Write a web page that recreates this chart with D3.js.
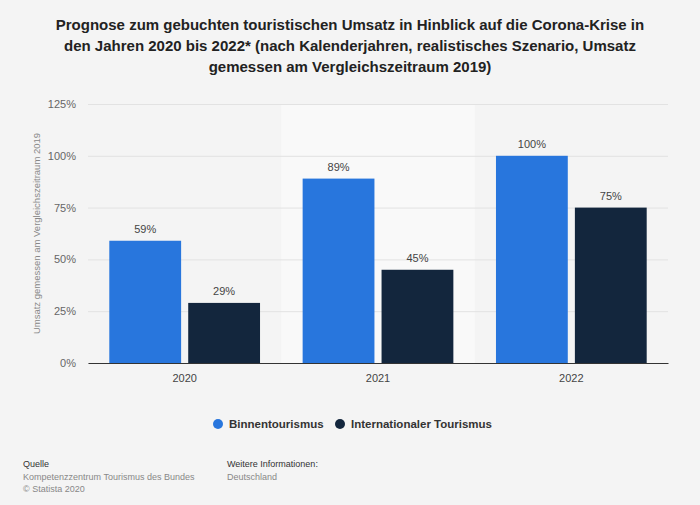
<!DOCTYPE html>
<html><head><meta charset="utf-8">
<script src="https://cdn.jsdelivr.net/npm/d3@7"></script>
<style>body{margin:0;background:#f4f4f4;font-family:"Liberation Sans",Arial,sans-serif}</style>
</head><body><svg id="c" width="700" height="505"></svg>
<script>
const years = ["2020","2021","2022"];
const seriesNames = ["Binnentourismus","Internationaler Tourismus"];
const binnen = [59,89,100];
const international = [29,45,75];
const yTicks = [0,25,50,75,100,125];
const colors = ["#2876dd","#13263d"];

const svg = d3.select("#c");
svg.append("rect").attr("width",700).attr("height",505).attr("fill","#f4f4f4");
const title = ["Prognose zum gebuchten touristischen Umsatz in Hinblick auf die Corona-Krise in",
 "den Jahren 2020 bis 2022* (nach Kalenderjahren, realistisches Szenario, Umsatz",
 "gemessen am Vergleichszeitraum 2019)"];
title.forEach((t,i)=>svg.append("text").attr("x",350).attr("y",30+i*21).attr("text-anchor","middle")
  .attr("font-size",15).attr("font-weight","bold").attr("fill","#222").text(t));

const L=88,R=668,T=104,B=363;
const x = d3.scaleBand().domain(years).range([L,R]);
const y = d3.scaleLinear().domain([0,125]).range([B,T]);
const xs = d3.scaleBand().domain(seriesNames).range([0,x.bandwidth()]).paddingInner(0.09).paddingOuter(0.27);

svg.append("rect").attr("x",x("2021")).attr("y",T).attr("width",x.bandwidth()).attr("height",B-T).attr("fill","#f9f9f9");

const yAxis = svg.append("g").attr("transform",`translate(${L},0)`)
  .call(d3.axisLeft(y).tickValues(yTicks).tickFormat(d=>d+"%").tickSize(-(R-L)));
yAxis.select(".domain").remove();
yAxis.selectAll("line").attr("stroke","#e2e2e2");
yAxis.selectAll("text").attr("fill","#666").attr("font-size",11).attr("x",-12);

svg.append("text").attr("transform",`translate(40,${(T+B)/2}) rotate(-90)`).attr("text-anchor","middle")
  .attr("font-size",9.5).attr("fill","#888").text("Umsatz gemessen am Vergleichszeitraum 2019");

const data = [binnen,international];
data.forEach((vals,si)=>{
  const g = svg.append("g");
  g.selectAll("rect").data(vals).join("rect")
    .attr("x",(d,i)=>x(years[i])+xs(seriesNames[si])).attr("width",xs.bandwidth())
    .attr("y",d=>y(d)).attr("height",d=>B-y(d)).attr("fill",colors[si]);
  g.selectAll("text").data(vals).join("text")
    .attr("x",(d,i)=>x(years[i])+xs(seriesNames[si])+xs.bandwidth()/2).attr("y",d=>y(d)-8)
    .attr("text-anchor","middle").attr("font-size",11).attr("fill","#444").text(d=>d+"%");
});

const xAxis = svg.append("g").attr("transform",`translate(0,${B})`).call(d3.axisBottom(x).tickSize(0).tickPadding(11));
xAxis.select(".domain").attr("stroke","#333");
xAxis.selectAll("text").attr("fill","#444").attr("font-size",11);

const leg=[[218,seriesNames[0]],[340,seriesNames[1]]];
leg.forEach(([lx,t],i)=>{
  svg.append("circle").attr("cx",lx).attr("cy",424).attr("r",5).attr("fill",colors[i]);
  svg.append("text").attr("x",lx+11).attr("y",428).attr("font-size",11.5).attr("font-weight","bold").attr("fill","#333").text(t);
});

const foot=[[23,467,"Quelle","#333"],[23,480,"Kompetenzzentrum Tourismus des Bundes","#888"],[23,492,"© Statista 2020","#888"],
 [227,467,"Weitere Informationen:","#333"],[227,480,"Deutschland","#888"]];
foot.forEach(([fx,fy,t,c])=>svg.append("text").attr("x",fx).attr("y",fy).attr("font-size",9).attr("fill",c).text(t));
</script></body></html>
